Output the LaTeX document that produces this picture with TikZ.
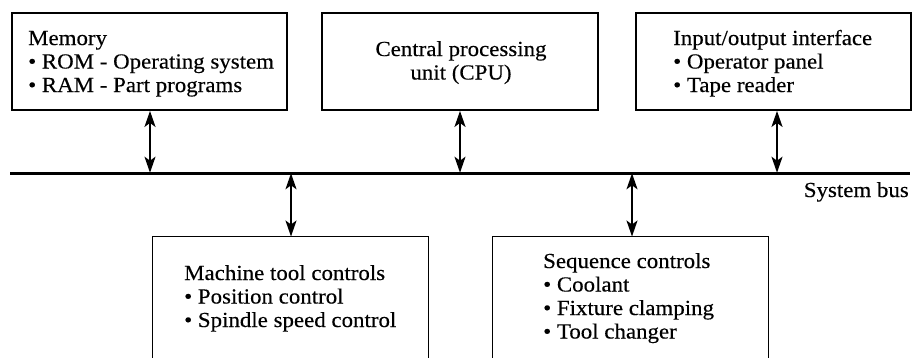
\documentclass[tikz,border=0pt]{standalone}
\usepackage{fontspec}
\setmainfont{Liberation Serif}[FakeStretch=1.065,FakeBold=0.3]
\usetikzlibrary{arrows.meta}
\begin{document}
\begin{tikzpicture}[x=1pt,y=-1pt,
  box/.style={draw,line width=1.2pt,inner sep=0pt},
  openbox/.style={inner sep=0pt},
  boxline/.style={line width=1.2pt},
  txt/.style={inner sep=0pt,font=\fontsize{21.5}{23.5}\selectfont},
  biarrow/.style={line width=2pt,{Stealth[length=16pt,width=11pt,inset=4pt]}-{Stealth[length=16pt,width=11pt,inset=4pt]},shorten <=0.3pt,shorten >=0.3pt},
  bus/.style={line width=3pt}]
\useasboundingbox (0,0) rectangle (912,357);
% top boxes
\node[box,minimum width=275pt,minimum height=97pt] (mem) at (149.5,61.5) {};
\node[box,minimum width=276pt,minimum height=97pt] (cpu) at (460,61.5) {};
\node[box,minimum width=275pt,minimum height=97pt] (io) at (773.5,61.5) {};
% bottom boxes (open at the bottom)
\node[openbox,minimum width=275pt,minimum height=130pt] (mtc) at (290.5,302) {};
\node[openbox,minimum width=275pt,minimum height=130pt] (seq) at (630.5,302) {};
\draw[boxline] (mtc.south west) -- (mtc.north west) -- (mtc.north east) -- (mtc.south east);
\draw[boxline] (seq.south west) -- (seq.north west) -- (seq.north east) -- (seq.south east);
% texts
\node[txt,anchor=base west] (memt) at (28,45) {\begin{tabular}[t]{@{}l@{}}Memory\\ • ROM - Operating system\\ • RAM - Part programs\end{tabular}};
\node[txt,anchor=base] (cput) at (461,56) {\begin{tabular}[t]{@{}c@{}}Central processing\\ unit (CPU)\end{tabular}};
\node[txt,anchor=base west] (iot) at (673,45) {\begin{tabular}[t]{@{}l@{}}Input/output interface\\ • Operator panel\\ • Tape reader\end{tabular}};
\node[txt,anchor=base west] (mtct) at (184,280) {\begin{tabular}[t]{@{}l@{}}Machine tool controls\\ • Position control\\ • Spindle speed control\end{tabular}};
\node[txt,anchor=base west] (seqt) at (543,268) {\begin{tabular}[t]{@{}l@{}}Sequence controls\\ • Coolant\\ • Fixture clamping\\ • Tool changer\end{tabular}};
% bus
\coordinate (busL) at (10,173);
\coordinate (busR) at (910,173);
\draw[bus] (busL) -- (busR);
\node[txt,anchor=base east] (bust) at (909,197) {System bus};
% connectors
\draw[biarrow] ([xshift=0.5pt]mem.south) -- ([xshift=0.5pt]mem.south |- busL);
\draw[biarrow] (cpu.south) -- (cpu.south |- busL);
\draw[biarrow] ([xshift=3.5pt]io.south) -- ([xshift=3.5pt]io.south |- busL);
\draw[biarrow] ([xshift=0.5pt]mtc.north |- busL) -- ([xshift=0.5pt]mtc.north);
\draw[biarrow] ([xshift=1.5pt]seq.north |- busL) -- ([xshift=1.5pt]seq.north);
\end{tikzpicture}
\end{document}
